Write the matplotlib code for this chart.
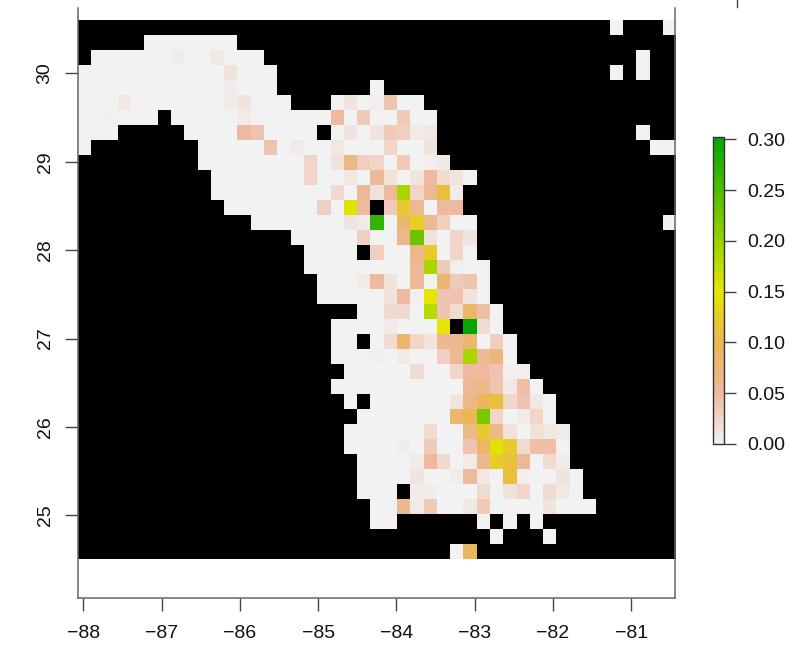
import numpy as np
from matplotlib import pyplot as plt
from matplotlib.colors import LinearSegmentedColormap
from matplotlib.lines import Line2D

lon_ticks = [-88, -87, -86, -85, -84, -83, -82, -81]
lat_ticks = [25, 26, 27, 28, 29, 30]
bar_ticks = [0.00, 0.05, 0.10, 0.15, 0.20, 0.25, 0.30]

n_rows = 36
n_cols = 45
lon_edges = (-88.07, -80.44)
lat_edges = (24.505, 30.597)
value_max = 0.3026

# cells that have data, per raster row from the top: (first col, last col)
land_runs = [
    [(40, 40), (44, 44)],
    [(5, 11)],
    [(1, 13), (42, 42)],
    [(0, 14), (40, 40), (42, 42)],
    [(0, 14), (22, 22)],
    [(0, 15), (19, 25)],
    [(0, 5), (7, 26)],
    [(0, 2), (8, 17), (19, 26), (42, 42)],
    [(0, 0), (9, 26), (43, 44)],
    [(9, 27)],
    [(10, 29)],
    [(10, 28)],
    [(11, 21), (23, 28)],
    [(13, 29), (44, 44)],
    [(16, 29)],
    [(17, 20), (22, 29)],
    [(17, 30)],
    [(18, 30)],
    [(18, 30)],
    [(21, 31)],
    [(19, 27), (29, 31)],
    [(19, 20), (22, 32)],
    [(19, 32)],
    [(20, 33)],
    [(19, 34)],
    [(20, 20), (22, 35)],
    [(21, 35)],
    [(20, 36)],
    [(20, 36)],
    [(21, 36)],
    [(21, 37)],
    [(21, 23), (25, 37)],
    [(22, 38)],
    [(22, 23), (30, 30), (32, 32), (34, 34)],
    [(31, 31), (35, 35)],
    [(28, 29)],
]

# non zero readings per raster row: {col: value}, everything else on land is 0
nonzero = [
    {},
    {},
    {7: .005, 10: .009},
    {11: .015},
    {11: .005},
    {3: .009, 11: .005, 12: .012, 20: .012, 22: .003, 23: .04},
    {2: .002, 12: .007, 19: .05, 21: .035, 24: .035},
    {12: .05, 13: .04, 20: .012, 22: .012, 23: .035, 24: .03, 25: .007, 26: .009},
    {14: .04, 16: .007, 19: .009, 23: .025, 26: .012},
    {17: .025, 19: .015, 20: .065, 21: .03, 22: .025, 24: .035, 26: .003, 27: .009},
    {17: .025, 20: .009, 22: .055, 23: .015, 25: .012, 26: .05, 27: .02, 28: .012},
    {19: .022, 21: .055, 22: .015, 23: .05, 24: .19, 25: .025, 26: .055, 27: .11, 28: .005},
    {18: .03, 20: .155, 21: .05, 23: .035, 24: .12, 25: .055, 27: .05, 28: .05},
    {20: .012, 21: .007, 22: .27, 24: .08, 25: .125, 26: .055, 27: .03},
    {21: .03, 24: .065, 25: .23, 26: .015, 28: .025, 29: .012},
    {22: .03, 25: .065, 26: .12, 28: .025},
    {25: .055, 26: .19, 27: .035, 28: .004},
    {21: .007, 22: .05, 23: .015, 25: .055, 27: .08, 28: .035, 29: .04},
    {23: .012, 24: .05, 25: .003, 26: .15, 27: .04, 28: .04, 29: .012},
    {23: .022, 24: .022, 26: .18, 27: .04, 28: .02, 29: .085, 30: .045},
    {23: .007, 27: .15, 29: .30, 30: .02},
    {23: .02, 24: .08, 25: .025, 26: .012, 27: .06, 28: .06, 29: .08, 31: .03},
    {22: .003, 24: .007, 27: .03, 28: .055, 29: .19, 30: .055, 31: .07},
    {25: .02, 28: .025, 29: .05, 30: .05, 31: .04, 32: .003, 33: .003},
    {29: .055, 30: .065, 31: .04, 32: .009, 33: .045},
    {28: .012, 29: .065, 30: .09, 31: .11, 32: .025, 33: .04, 34: .009},
    {28: .08, 29: .095, 30: .22, 31: .025, 33: .007, 34: .025},
    {26: .02, 29: .065, 30: .12, 31: .065, 32: .015, 34: .015, 35: .009, 36: .007},
    {24: .004, 26: .035, 29: .04, 30: .085, 31: .155, 32: .12, 33: .02, 34: .045, 35: .045},
    {25: .007, 26: .05, 27: .022, 29: .007, 30: .06, 31: .125, 32: .11, 33: .055, 35: .02, 36: .005},
    {25: .012, 28: .004, 29: .05, 30: .009, 32: .11, 33: .003, 36: .012},
    {25: .007, 26: .004, 30: .02, 32: .015, 33: .025, 35: .02, 36: .009},
    {24: .06, 25: .007, 26: .035, 29: .009, 30: .035, 35: .012},
    {},
    {},
    {29: .09},
]


def build_grid():
    """ fills the raster from the runs and readings, NaN is no data """
    grid = np.full((n_rows, n_cols), np.nan)
    for row in range(n_rows):
        for first, last in land_runs[row]:
            grid[row, first:last + 1] = 0.0
        for col, value in nonzero[row].items():
            grid[row, col] = value
    return grid


def main():
    plt.rcParams['font.family'] = ['Liberation Sans', 'DejaVu Sans']
    width, height = 809, 645
    fig = plt.figure(figsize=(width / 100, height / 100), dpi=100)

    # terrain colours, reversed
    cmap = LinearSegmentedColormap.from_list('terrain_rev', [
        (0.0, '#F2F2F2'),
        (0.05 / value_max, '#EEB99F'),
        (0.10 / value_max, '#EAB64E'),
        (0.15 / value_max, '#E6E600'),
        (1.0, '#00A600'),
    ], N=512)
    cmap.set_bad('black')

    ax = fig.add_axes([77.7 / width, 1 - 598 / height, (675 - 77.7) / width, 590 / height])
    image = ax.imshow(np.ma.masked_invalid(build_grid()), cmap=cmap, vmin=0, vmax=value_max,
                      extent=(lon_edges[0], lon_edges[1], lat_edges[0], lat_edges[1]),
                      origin='upper', interpolation='nearest', aspect='auto')
    ax.set_xlim(-88.0716, -80.442)
    ax.set_ylim(24.065, 30.739)

    ax.set_xticks(lon_ticks)
    ax.set_yticks(lat_ticks)
    ax.tick_params(axis='x', length=9.4, width=1, color='#444444', labelsize=14, pad=10, labelcolor='#111111')
    ax.tick_params(axis='y', length=9.4, width=1, color='#444444', labelsize=14, pad=8, labelcolor='#111111')
    for label in ax.get_yticklabels():
        label.set_rotation(90)
        label.set_verticalalignment('center')

    ax.spines['top'].set_visible(False)
    for side in ['left', 'right', 'bottom']:
        ax.spines[side].set_color('#666666')
        ax.spines[side].set_linewidth(1.1)

    cax = fig.add_axes([712.5 / width, 1 - 443.8 / height, 11.3 / width, 307.1 / height])
    bar = fig.colorbar(image, cax=cax, ticks=bar_ticks)
    bar.ax.set_yticklabels(['%.2f' % tick for tick in bar_ticks])
    bar.ax.tick_params(length=8.6, width=1, color='#444444', labelsize=14, pad=8.6, labelcolor='#111111')
    bar.outline.set_edgecolor('#333333')
    bar.outline.set_linewidth(1)

    # bit of a tick left at the top edge of the crop
    fig.add_artist(Line2D([737 / width, 737 / width], [1, 1 - 7 / height], color='#444444', lw=1))

    fig.savefig('out.png', dpi=100)


if __name__ == '__main__':
    main()
